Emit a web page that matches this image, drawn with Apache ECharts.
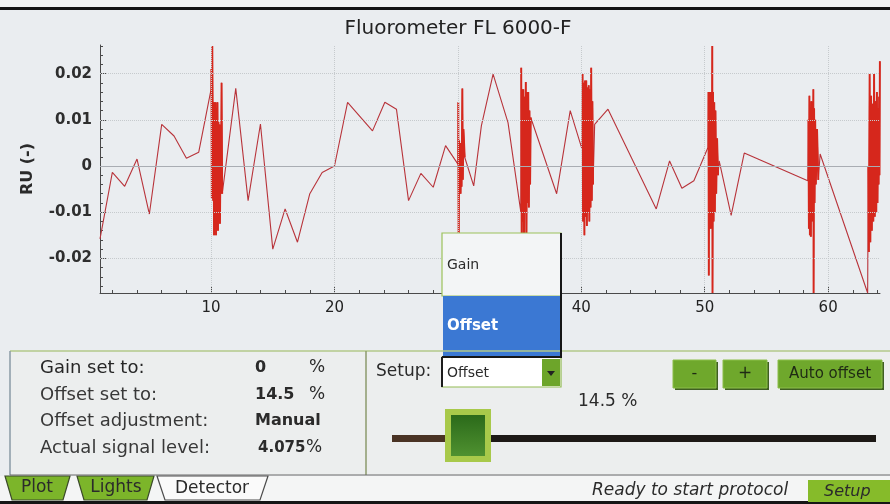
<!DOCTYPE html>
<html>
<head>
<meta charset="utf-8">
<script src="https://cdn.jsdelivr.net/npm/echarts@6/dist/echarts.min.js"></script>
<style>
html, body { margin: 0; padding: 0; background: #eaedf0; }
#main { width: 890px; height: 504px; }
</style>
</head>
<body>
<div id="main"></div>
<script>
// readings [time, RU], split by segment (quiet stretches and noisy bursts)
var quiet1 = [[1, -0.0158], [2, -0.0014], [3, -0.0044], [4, 0.0015], [5, -0.0104], [6, 0.009], [7, 0.0065], [8, 0.0017], [9, 0.003], [10, 0.0166]]
var burst1 = [[10.03, 0.021], [10.06, -0.007], [10.1, 0.026], [10.13, 0.012], [10.17, -0.0075], [10.2, 0.0138], [10.24, -0.015], [10.28, 0.0138], [10.32, -0.009], [10.36, 0.0138], [10.4, -0.015], [10.44, 0.0125], [10.48, -0.011], [10.52, 0.0138], [10.56, -0.014], [10.6, 0.0095], [10.64, -0.012], [10.68, 0.009], [10.72, -0.0125], [10.76, 0], [10.8, -0.006], [10.85, 0.018], [10.9, -0.006]]
var quiet2 = [[11, -0.004], [12, 0.0168], [13, -0.0075], [14, 0.0091], [15, -0.018], [16, -0.0093], [17, -0.0165], [18, -0.006], [19, -0.0014], [20, 0], [21.06, 0.0138], [23.08, 0.0076], [24.08, 0.0138], [25.02, 0.0123], [26, -0.0075], [27, -0.0016], [28, -0.0046], [29, 0.0044], [30, 0.0004]]
var burst2 = [[30.03, 0.0138], [30.06, -0.02], [30.1, 0.0055], [30.14, -0.006], [30.18, 0.005], [30.22, -0.006], [30.26, 0.0045], [30.3, -0.0045], [30.36, 0.0168], [30.4, -0.003], [30.45, 0.008], [30.55, 0.0019]]
var quiet3 = [[31.28, -0.0043], [31.9, 0.0087], [32.85, 0.0199], [34.06, 0.0094], [35.1, -0.01]]
var burst3 = [[35.13, 0.0213], [35.17, -0.02], [35.2, 0.0166], [35.25, -0.012], [35.3, 0.0166], [35.35, -0.02], [35.4, 0.015], [35.45, -0.01], [35.5, 0.0182], [35.55, -0.02], [35.6, 0.016], [35.65, -0.008], [35.7, 0.016], [35.75, -0.009], [35.8, 0.012], [35.85, -0.004], [35.9, 0.0105]]
var quiet4 = [[36, 0.0101], [38, -0.006], [39.1, 0.012], [40.05, 0.0037]]
var burst4 = [[40.1, 0.0199], [40.14, -0.012], [40.2, 0.018], [40.25, -0.015], [40.3, 0.0185], [40.35, -0.011], [40.4, 0.0185], [40.45, -0.013], [40.5, 0.017], [40.55, -0.01], [40.6, 0.0175], [40.65, -0.012], [40.7, 0.0166], [40.75, -0.009], [40.8, 0.0213], [40.85, -0.0075], [40.9, 0.014], [40.95, -0.004]]
var quiet5 = [[41.08, 0.009], [42.16, 0.0123], [46.07, -0.0093], [47.15, 0.0011], [48.15, -0.0048], [49.12, -0.0032], [50.26, 0.004]]
var burst5 = [[50.3, 0.016], [50.33, -0.0237], [50.37, 0.0138], [50.41, -0.012], [50.45, 0.016], [50.49, -0.0136], [50.53, 0.0145], [50.57, -0.011], [50.61, 0.026], [50.63, -0.0275], [50.67, 0.016], [50.72, -0.012], [50.77, 0.0138], [50.82, -0.01], [50.87, 0.012], [50.93, -0.006], [51, 0.006], [51.08, -0.002]]
var quiet6 = [[51.17, 0.0011], [52.14, -0.0107], [53.2, 0.0028], [58.35, -0.0032]]
var burst6 = [[58.4, 0.01], [58.44, -0.0136], [58.48, 0.0152], [58.52, -0.015], [58.56, 0.0123], [58.6, -0.0153], [58.64, 0.014], [58.68, -0.012], [58.72, 0.0135], [58.76, -0.01], [58.8, 0.0166], [58.82, -0.0275], [58.86, 0.0125], [58.9, -0.008], [58.95, 0.01], [59, -0.004], [59.1, 0.008], [59.2, -0.003]]
var quiet7 = [[59.35, 0.0026], [63.2, -0.0275]]
var burst7 = [[63.25, 0], [63.3, -0.0186], [63.36, 0.0199], [63.42, -0.0165], [63.48, 0.0152], [63.54, -0.014], [63.6, 0.0135], [63.66, -0.012], [63.72, 0.0199], [63.78, -0.011], [63.84, 0.014], [63.9, -0.01], [63.95, 0.016], [64, -0.008], [64.05, 0.0125], [64.09, -0.004], [64.13, 0.015], [64.16, -0.002], [64.19, 0.0227]]

var xLabelTicks = [10, 20, 30, 40, 50, 60]
var xMinorTicks = [2, 4, 6, 8, 12, 14, 16, 18, 22, 24, 26, 28, 32, 34, 36, 38, 42, 44, 46, 48, 52, 54, 56, 58, 62, 64]
var yLabelTicks = [-0.02, -0.01, 0, 0.01, 0.02]
var yMinorTicks = [-0.026, -0.024, -0.022, -0.018, -0.016, -0.014, -0.012, -0.008, -0.006, -0.004, -0.002, 0.002, 0.004, 0.006, 0.008, 0.012, 0.014, 0.016, 0.018, 0.022, 0.024, 0.026]

var statusLabels = ['Gain set to:', 'Offset set to:', 'Offset adjustment:', 'Actual signal level:']
var statusValues = ['0', '14.5', 'Manual', '4.075']
var statusUnits = ['%', '%', '', '%']
var setupOptions = ['Gain', 'Offset']
var offsetValue = 14.5

var readings = [].concat(quiet1, burst1, quiet2, burst2, quiet3, burst3, quiet4, burst4, quiet5, burst5, quiet6, burst6, quiet7, burst7)
var bursts = [burst1, burst2, burst3, burst4, burst5, burst6, burst7]

var FONT = '"DejaVu Sans", Verdana, sans-serif'

function rect (x, y, w, h, fill, stroke, lw) {
  return { type: 'rect', z: 100, shape: { x: x, y: y, width: w, height: h }, style: { fill: fill, stroke: stroke || null, lineWidth: lw || 1 } }
}
function line (x1, y1, x2, y2, color, w) {
  return { type: 'line', z: 101, shape: { x1: x1, y1: y1, x2: x2, y2: y2 }, style: { stroke: color, lineWidth: w || 1 } }
}
function poly (pts, fill, stroke) {
  return { type: 'polygon', z: 100, shape: { points: pts }, style: { fill: fill, stroke: stroke || null, lineWidth: 1.2 } }
}
function label (x, y, str, size, opt) {
  opt = opt || {}
  return {
    type: 'text', z: 102,
    style: {
      x: x, y: y, text: str,
      fill: opt.color || '#2b2b2b',
      font: (opt.style || 'normal') + ' ' + (opt.weight || 'normal') + ' ' + size + 'px ' + FONT,
      align: opt.align || 'left', verticalAlign: 'middle'
    }
  }
}

var graphics = []
// bezel lines
graphics.push(rect(0, 0, 890, 7, '#f2f3f4'))
graphics.push(rect(0, 7, 890, 3, '#151515'))
graphics.push(rect(0, 501, 890, 3, '#151515'))

// lower panel
graphics.push(rect(10, 351, 880, 124, '#eceeee'))
graphics.push(line(10, 351, 890, 351, '#b3c98a', 1.5))
graphics.push(line(10, 351, 10, 475, '#8a9aa6', 1.5))
graphics.push(line(366, 351, 366, 475, '#8c9a6c', 1.5))
graphics.push(line(10, 475, 890, 475, '#6a6a6a', 1.2))

// detector status
var rowY = [368, 395, 421, 448]
var valueSize = [16, 16, 16, 15]
for (var i = 0; i < statusLabels.length; i++) {
  graphics.push(label(40, rowY[i], statusLabels[i], 18, { color: i === 0 ? '#262626' : '#383838' }))
  graphics.push(label(i === 3 ? 258 : 255, rowY[i], statusValues[i], valueSize[i], { weight: 'bold' }))
  if (statusUnits[i]) graphics.push(label(i === 3 ? 306 : 309, rowY[i], statusUnits[i], 17))
}

// setup combo
graphics.push(label(376, 372, 'Setup:', 17))
graphics.push(rect(442, 357, 119, 30, '#ffffff', '#93bb55', 1.2))
graphics.push(line(442, 357, 442, 387, '#1c1c1c', 2))
graphics.push(label(447, 373, setupOptions[1], 14))
graphics.push(rect(542, 359, 18, 27, '#6da52a'))
graphics.push(poly([[547, 371], [555, 371], [551, 376]], '#222'))

// buttons
function button (x, y, w, h, txt, size, italic) {
  graphics.push(rect(x + 2, y + 2, w, h, '#3f5f22'))
  graphics.push(rect(x, y, w, h, '#6fa82c', '#8cbf48', 1))
  graphics.push(label(x + w / 2, y + h / 2, txt, size, { align: 'center', style: italic ? 'italic' : 'normal', color: '#1f2a14' }))
}
button(673, 360, 43, 28, '-', 16)
button(723, 360, 44, 28, '+', 17)
button(778, 360, 104, 28, 'Auto offset', 15)

graphics.push(label(578, 402, offsetValue + ' %', 17))

// slider
graphics.push(rect(392, 435, 60, 7, '#4a3324'))
graphics.push(rect(450, 435, 426, 7, '#1d1916'))
graphics.push(rect(445, 409, 46, 53, '#a8c94a'))
graphics.push({
  type: 'rect', z: 101, shape: { x: 451, y: 415, width: 34, height: 41 },
  style: { fill: new echarts.graphic.LinearGradient(0, 0, 0, 1, [{ offset: 0, color: '#2b6a1a' }, { offset: 1, color: '#4f9130' }]) }
})

// tabs + status bar
graphics.push(rect(0, 476, 890, 25, '#f4f5f5'))
graphics.push(poly([[5, 476], [70, 476], [63, 500], [12, 500]], '#7cb52a', '#3b4a2a'))
graphics.push(poly([[77, 476], [154, 476], [147, 500], [84, 500]], '#7cb52a', '#3b4a2a'))
graphics.push(poly([[157, 476], [268, 476], [260, 500], [165, 500]], '#fafafa', '#4a4a4a'))
graphics.push(label(37, 488, 'Plot', 17, { align: 'center' }))
graphics.push(label(116, 488, 'Lights', 17, { align: 'center' }))
graphics.push(label(212, 489, 'Detector', 17, { align: 'center' }))
graphics.push(label(592, 491, 'Ready to start protocol', 17, { style: 'italic' }))
graphics.push(rect(808, 480, 82, 22, '#86bb2a'))
graphics.push(label(824, 492, 'Setup', 16, { style: 'italic' }))

// open dropdown over the plot
graphics.push(rect(442, 233, 119, 63, '#f3f5f6', '#9cc25a', 1.2))
graphics.push(rect(443, 296, 117, 61, '#3b78d3'))
graphics.push(line(561, 233, 561, 358, '#161616', 2))
graphics.push(line(442, 357, 561, 357, '#161616', 2))
graphics.push(label(447, 265, setupOptions[0], 14))
graphics.push(label(447, 326, setupOptions[1], 15, { color: '#ffffff', weight: 'bold' }))

var series = [{
  // grid lines
  type: 'line',
  data: [],
  silent: true,
  markLine: {
    silent: true,
    symbol: 'none',
    label: { show: false },
    lineStyle: { color: '#c6cacd', type: 'dotted', width: 1 },
    data: xLabelTicks.map(function (v) { return { xAxis: v } })
      .concat(yLabelTicks.filter(function (v) { return v !== 0 }).map(function (v) { return { yAxis: v } }))
      .concat([{ yAxis: 0, lineStyle: { color: '#a9adb3', type: 'solid', width: 1.2 } }])
  }
}, {
  name: 'RU',
  type: 'line',
  data: readings,
  showSymbol: false,
  symbol: 'none',
  clip: true,
  lineStyle: { color: '#b8333a', width: 1.1 }
}]
// noisy stretches look denser / brighter on the device
bursts.forEach(function (b) {
  series.push({
    type: 'line',
    data: b,
    showSymbol: false,
    symbol: 'none',
    clip: true,
    silent: true,
    lineStyle: { color: '#d6271c', width: 1.9 }
  })
})

var chart = echarts.init(document.getElementById('main'))
var option = {
  animation: false,
  backgroundColor: '#eaedf0',
  title: {
    text: 'Fluorometer FL 6000-F',
    left: 453,
    top: 14,
    textAlign: 'center',
    textStyle: { fontFamily: FONT, fontSize: 20, fontWeight: 'normal', color: '#222' }
  },
  grid: { left: 100, right: 10, top: 45, bottom: 211 },
  xAxis: [{
    type: 'value',
    min: 1,
    max: 64.2,
    axisLine: { onZero: false, lineStyle: { color: '#4a4a4a', width: 1 } },
    axisTick: { inside: true, length: 6, customValues: xLabelTicks, lineStyle: { color: '#4a4a4a' } },
    axisLabel: { customValues: xLabelTicks, margin: 8, fontFamily: FONT, fontSize: 15, color: '#222' },
    splitLine: { show: false }
  }, {
    type: 'value',
    position: 'bottom',
    min: 1,
    max: 64.2,
    axisLine: { show: false, onZero: false },
    axisTick: { inside: true, length: 3, customValues: xMinorTicks, lineStyle: { color: '#4a4a4a' } },
    axisLabel: { show: false },
    splitLine: { show: false }
  }],
  yAxis: [{
    type: 'value',
    min: -0.0275,
    max: 0.0262,
    name: 'RU (-)',
    nameLocation: 'middle',
    nameGap: 64,
    nameTextStyle: { fontFamily: FONT, fontSize: 16, fontWeight: 'bold', color: '#2a2a2a' },
    axisLine: { show: true, onZero: false, lineStyle: { color: '#4a4a4a', width: 1 } },
    axisTick: { show: true, inside: true, length: 6, customValues: yLabelTicks, lineStyle: { color: '#4a4a4a' } },
    axisLabel: { customValues: yLabelTicks, margin: 8, fontFamily: FONT, fontSize: 15, fontWeight: 'bold', color: '#2e2e2e' },
    splitLine: { show: false }
  }, {
    type: 'value',
    position: 'left',
    min: -0.0275,
    max: 0.0262,
    axisLine: { show: false, onZero: false },
    axisTick: { show: true, inside: true, length: 3, customValues: yMinorTicks, lineStyle: { color: '#4a4a4a' } },
    axisLabel: { show: false },
    splitLine: { show: false }
  }],
  series: series,
  graphic: graphics
}
chart.setOption(option)
</script>
</body>
</html>
